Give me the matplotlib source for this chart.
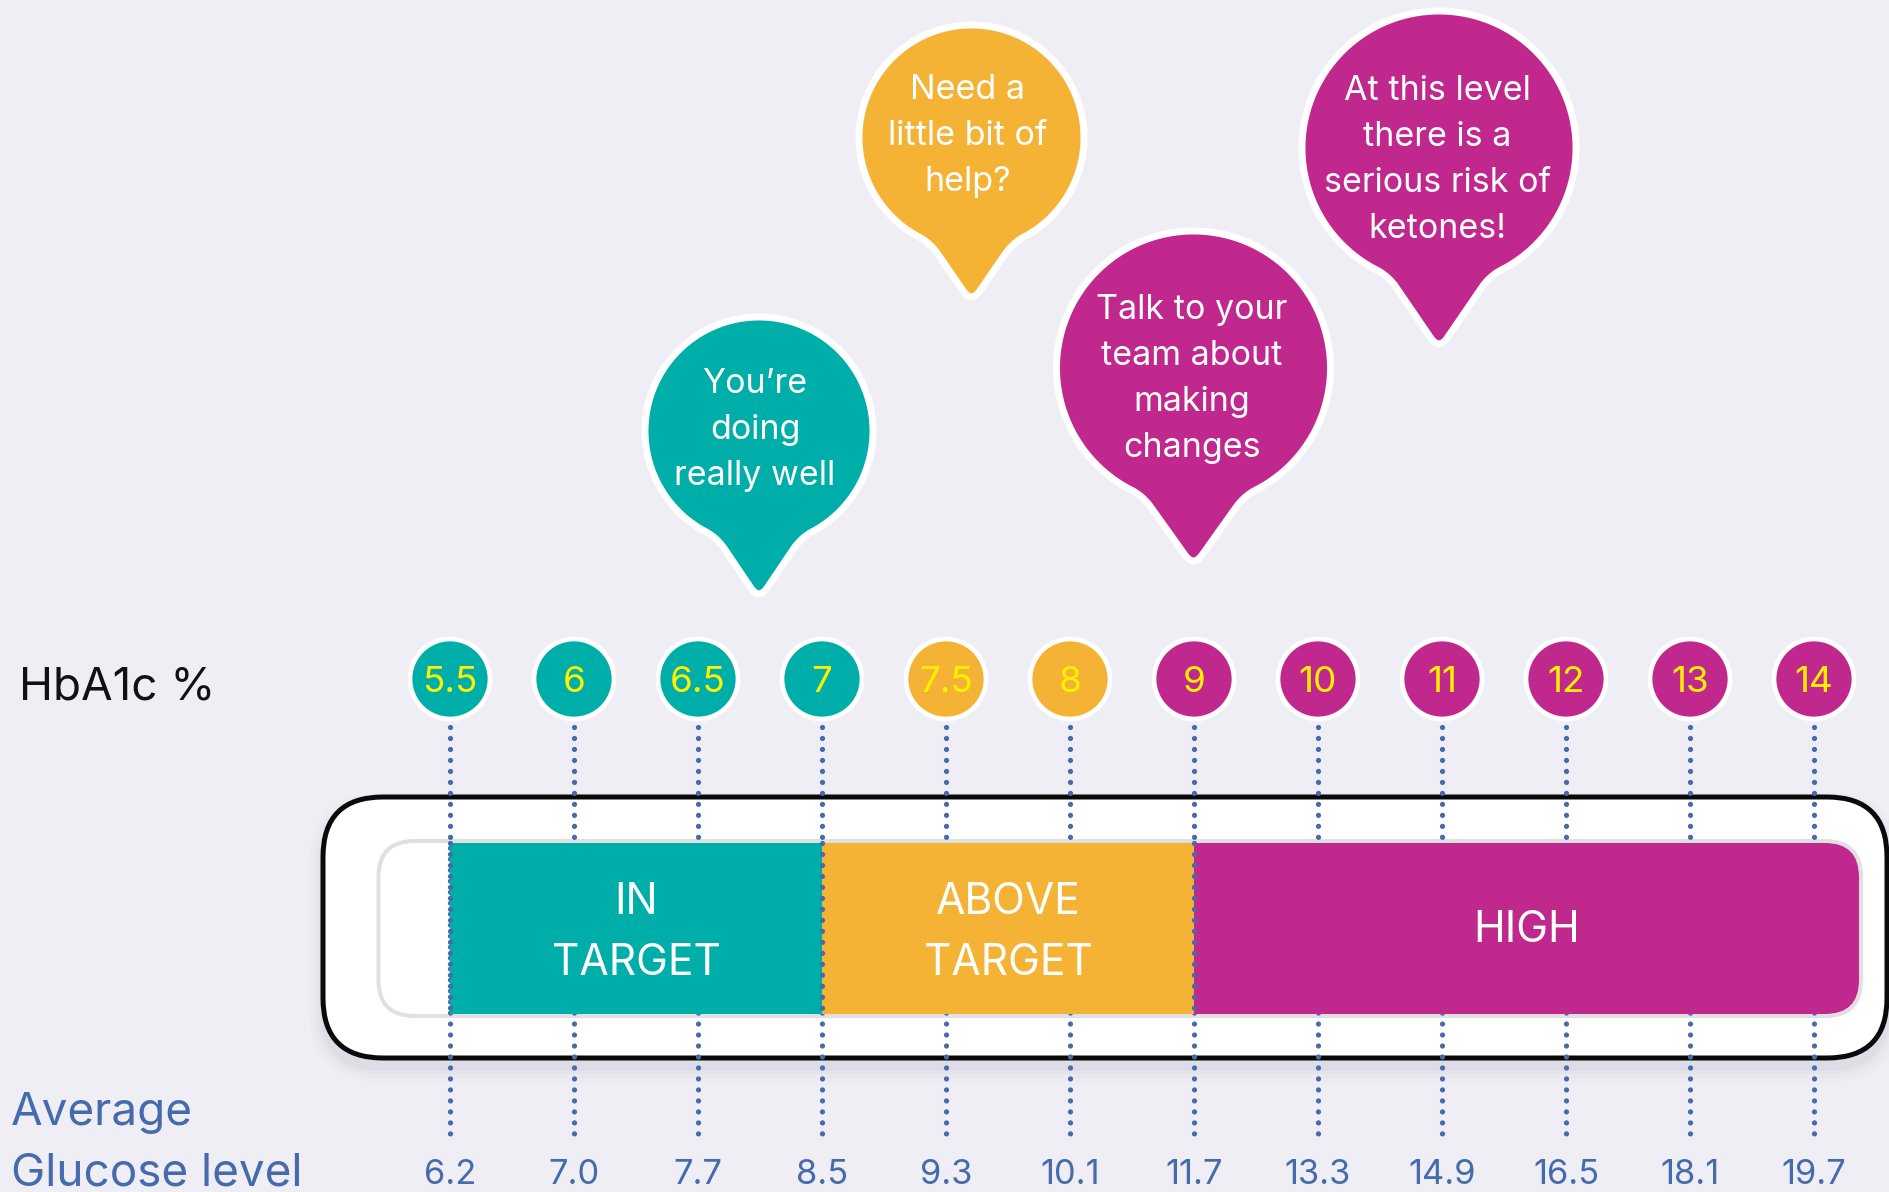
import numpy as np
import matplotlib
matplotlib.use("Agg")
import matplotlib.pyplot as plt
from matplotlib.patches import FancyBboxPatch, Polygon

# ---------------- data ----------------
hba1c_labels = ["5.5", "6", "6.5", "7", "7.5", "8", "9", "10", "11", "12", "13", "14"]
glucose_labels = ["6.2", "7.0", "7.7", "8.5", "9.3", "10.1", "11.7", "13.3", "14.9", "16.5", "18.1", "19.7"]
zone_of_level = [0, 0, 0, 0, 1, 1, 2, 2, 2, 2, 2, 2]
zone_names = ["IN\nTARGET", "ABOVE\nTARGET", "HIGH"]
zone_from = ["5.5", "7", "9"]
zone_to = ["7", "9", None]          # HIGH is open-ended
messages = ["You\u2019re\ndoing\nreally well",
            "Need a\nlittle bit of\nhelp?",
            "Talk to your\nteam about\nmaking\nchanges",
            "At this level\nthere is a\nserious risk of\nketones!"]
message_zone = [0, 1, 2, 2]

# ---------------- style / layout ----------------
W, H = 1890, 1192
BG = "#EFEEF4"
ZONE_COLORS = ["#00AEA9", "#F4B335", "#C1288E"]
BLUE = "#456BAD"
YELLOW = "#FFF000"
plt.rcParams["font.family"] = ["Inter", "DejaVu Sans"]

fig = plt.figure(figsize=(W / 100, H / 100), dpi=100, facecolor=BG)
bg = fig.add_axes([0, 0, 1, 1])
bg.set_xlim(0, W)
bg.set_ylim(H, 0)
bg.axis("off")
bg.set_facecolor(BG)

ax = fig.add_axes([0, 0, 1, 1])
x0_px, step_px = 450.0, 124.0
ax.set_xlim(-x0_px / step_px, (W - x0_px) / step_px)
ax.set_ylim(H, 0)
ax.axis("off")


def px_to_idx(xp):
    disp = bg.transData.transform((xp, 0))
    return ax.transData.inverted().transform(disp)[0]


# outer box shadow
for g, a in [(14, 0.018), (10, 0.025), (6, 0.035), (3, 0.045)]:
    bg.add_patch(FancyBboxPatch((323 - g, 797 + 10 - g), 1887 - 323 + 2 * g, 261 + 2 * g,
                                boxstyle="round,pad=0,rounding_size=%d" % (60 + g),
                                fc="#6E6E8A", ec="none", alpha=a, zorder=0))
# outer box
bg.add_patch(FancyBboxPatch((323, 797), 1887 - 323, 1058 - 797,
                            boxstyle="round,pad=0,rounding_size=60",
                            fc="white", ec="#0A0A0A", lw=3.6, zorder=1))
# inner track
bg.add_patch(FancyBboxPatch((378.5, 841), 1861 - 378.5, 1016 - 841,
                            boxstyle="round,pad=0,rounding_size=36",
                            fc="white", ec="#E0E0E3", lw=2.9, zorder=2))
clip = FancyBboxPatch((380.5, 843), 1859 - 380.5, 1014 - 843,
                      boxstyle="round,pad=0,rounding_size=34",
                      transform=bg.transData)

# dotted guide lines
DOT = dict(color=BLUE, lw=3.8, ls=(0, (0.001, 2.08)), dash_capstyle="round")
for i in range(len(hba1c_labels)):
    ax.plot([i, i], [727, 1135], zorder=0.5, **DOT)

# zone bands
track_end = px_to_idx(1859)
for z, name in enumerate(zone_names):
    s = hba1c_labels.index(zone_from[z])
    e = hba1c_labels.index(zone_to[z]) if zone_to[z] else track_end + 0.5
    bars = ax.barh(928.5, e - s, left=s, height=171, color=ZONE_COLORS[z], zorder=1)
    for b in bars:
        b.set_clip_path(clip)
    ec = e if zone_to[z] else track_end
    lines = name.split("\n")
    base = [942] if len(lines) == 1 else [914, 975]
    for ln, yb in zip(lines, base):
        ax.text((s + ec) / 2, yb, ln, ha="center", va="baseline", color="white",
                fontsize=30.7, zorder=5)
    ax.plot([s, s], [843, 1014], zorder=1.5, **DOT)

# level circles
ax.scatter(range(len(hba1c_labels)), [679] * len(hba1c_labels), s=57.6 ** 2,
           c=[ZONE_COLORS[z] for z in zone_of_level], edgecolors="white",
           linewidths=3.4, zorder=3)
for i, lab in enumerate(hba1c_labels):
    ax.text(i, 692, lab, ha="center", va="baseline", color=YELLOW, fontsize=26.5, zorder=4)
for i, lab in enumerate(glucose_labels):
    ax.text(i, 1184, lab, ha="center", va="baseline", color=BLUE, fontsize=24.8, zorder=4)

bg.text(19, 699, "HbA1c %", ha="left", va="baseline", color="#111111", fontsize=33)
bg.text(11, 1124.5, "Average", ha="left", va="baseline", color=BLUE, fontsize=33)
bg.text(11, 1185, "Glucose level", ha="left", va="baseline", color=BLUE, fontsize=33)


# speech bubbles
def qbez(p0, p1, p2, n=24):
    t = np.linspace(0, 1, n)[:, None]
    return (1 - t) ** 2 * p0 + 2 * (1 - t) * t * p1 + t ** 2 * p2


def bubble_verts(cx, cy, r, tip_y, a_deg=22.0, fillet=15.0, tip_round=15.0):
    a = np.radians(a_deg)
    d = fillet / r
    th = np.linspace(a + d, 2 * np.pi - a - d, 300)
    arc = np.column_stack([cx + r * np.sin(th), cy + r * np.cos(th)])
    L = np.array([cx - r * np.sin(a), cy + r * np.cos(a)])
    R = np.array([cx + r * np.sin(a), cy + r * np.cos(a)])
    T = np.array([cx, tip_y])
    uL = (T - L) / np.linalg.norm(T - L)
    uR = (R - T) / np.linalg.norm(R - T)
    parts = [arc,
             qbez(arc[-1], L, L + uL * fillet),
             qbez(T - uL * tip_round, T, T + uR * tip_round),
             qbez(R - uR * fillet, R, arc[0])]
    return np.vstack(parts)


bubble_layout = [  # (cx, cy, r, tip_y, text_x, first_baseline)
    (759, 431, 114, 600, 755, 393),
    (971.5, 137.5, 112.5, 303, 968, 99),
    (1193.5, 368, 137, 567, 1192, 319),
    (1439, 148, 137, 350, 1437.5, 100),
]
for msg, z, (cx, cy, r, ty, tx, b0) in zip(messages, message_zone, bubble_layout):
    bg.add_patch(Polygon(bubble_verts(cx, cy, r, ty), closed=True, fc=ZONE_COLORS[z],
                         ec="white", lw=5, joinstyle="round", zorder=3))
    for k, ln in enumerate(msg.split("\n")):
        bg.text(tx, b0 + 46 * k, ln, ha="center", va="baseline", color="white",
                fontsize=24.5, zorder=4)

fig.savefig("out.png", dpi=100, facecolor=BG)
